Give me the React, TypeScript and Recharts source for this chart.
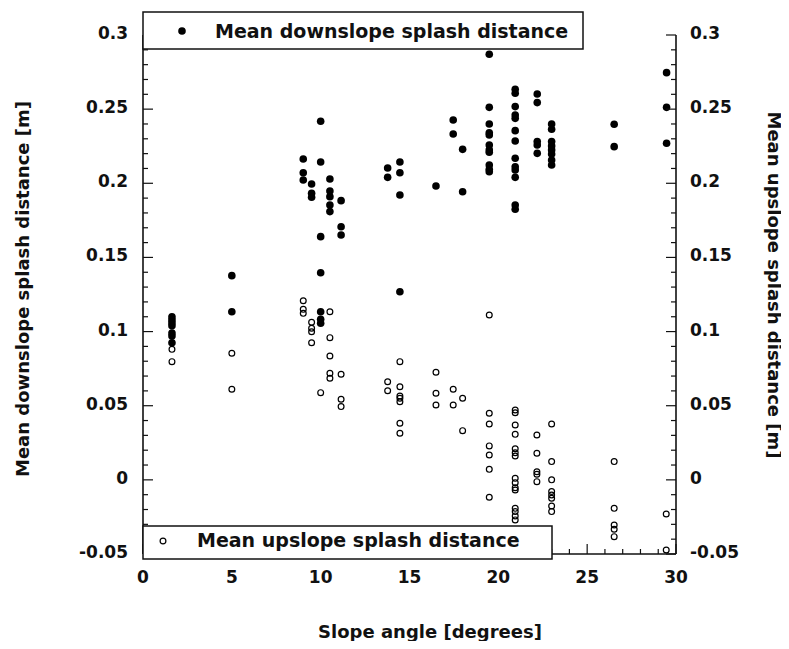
import React from "react";
import { ScatterChart, Scatter, XAxis, YAxis } from "recharts";

// ---- data (slope angle [deg], distance [m]) ----
const downslope: [number, number][] = [
  [1.63, 0.110], [1.63, 0.108], [1.63, 0.106], [1.63, 0.104], [1.63, 0.099], [1.63, 0.097], [1.63, 0.0925],
  [5.0, 0.1377], [5.0, 0.1134],
  [9.02, 0.2164], [9.02, 0.2071], [9.02, 0.2022],
  [9.49, 0.1995], [9.49, 0.1933], [9.49, 0.1906],
  [10.0, 0.2418], [10.0, 0.2144], [10.0, 0.164], [10.0, 0.1397], [10.0, 0.1134], [10.0, 0.1083], [10.0, 0.1056],
  [10.52, 0.2029], [10.52, 0.1948], [10.52, 0.191], [10.52, 0.1854], [10.52, 0.1809],
  [11.15, 0.1883], [11.15, 0.1707], [11.15, 0.1651],
  [13.77, 0.2103], [13.77, 0.204],
  [14.46, 0.2144], [14.46, 0.2071], [14.46, 0.1921], [14.46, 0.1269],
  [16.49, 0.1982],
  [17.46, 0.2427], [17.46, 0.2332],
  [17.99, 0.2229], [17.99, 0.1943],
  [19.49, 0.287], [19.49, 0.2512], [19.49, 0.24], [19.49, 0.2341], [19.49, 0.2326], [19.49, 0.2258],
  [19.49, 0.2225], [19.49, 0.2209], [19.49, 0.2123], [19.49, 0.2094], [19.49, 0.2078],
  [20.95, 0.2634], [20.95, 0.2607], [20.95, 0.2517], [20.95, 0.2461], [20.95, 0.2438], [20.95, 0.2355],
  [20.95, 0.2285], [20.95, 0.2169], [20.95, 0.2112], [20.95, 0.209], [20.95, 0.204], [20.95, 0.1854], [20.95, 0.1825],
  [22.19, 0.2602], [22.19, 0.2544], [22.19, 0.2281], [22.19, 0.2258], [22.19, 0.2202],
  [23.0, 0.24], [23.0, 0.2364], [23.0, 0.2281], [23.0, 0.2252], [23.0, 0.2225], [23.0, 0.2198], [23.0, 0.2157], [23.0, 0.2123],
  [26.52, 0.2398], [26.52, 0.2247],
  [29.47, 0.2746], [29.47, 0.2512], [29.47, 0.227],
];

const upslope: [number, number][] = [
  [1.63, 0.088], [1.63, 0.0797],
  [5.0, 0.0854], [5.0, 0.0611],
  [9.02, 0.1208], [9.02, 0.115], [9.02, 0.1123],
  [9.49, 0.1063], [9.49, 0.1022], [9.49, 0.0999], [9.49, 0.0925],
  [10.0, 0.0588],
  [10.52, 0.1134], [10.52, 0.0959], [10.52, 0.0835], [10.52, 0.0719], [10.52, 0.0685],
  [11.15, 0.0712], [11.15, 0.0544], [11.15, 0.0494],
  [13.77, 0.0662], [13.77, 0.0601],
  [14.46, 0.0797], [14.46, 0.0628], [14.46, 0.0566], [14.46, 0.055], [14.46, 0.0527], [14.46, 0.0382], [14.46, 0.0314],
  [16.49, 0.0726], [16.49, 0.0584], [16.49, 0.0505],
  [17.46, 0.0611], [17.46, 0.0505],
  [17.99, 0.055], [17.99, 0.0332],
  [19.49, 0.1112], [19.49, 0.0449], [19.49, 0.0377], [19.49, 0.0229], [19.49, 0.0168], [19.49, 0.0071], [19.49, -0.0117],
  [20.95, 0.0471], [20.95, 0.0453], [20.95, 0.037], [20.95, 0.0307], [20.95, 0.021], [20.95, 0.0183], [20.95, 0.0161],
  [20.95, 0.001], [20.95, -0.0019], [20.95, -0.0053], [20.95, -0.0068], [20.95, -0.0192], [20.95, -0.0214],
  [20.95, -0.0243], [20.95, -0.027],
  [22.17, 0.0303], [22.17, 0.0179], [22.17, 0.0055], [22.17, 0.0038], [22.17, -0.0012],
  [23.0, 0.0377], [23.0, 0.0123], [23.0, 0.0], [23.0, -0.0079], [23.0, -0.0102], [23.0, -0.0124], [23.0, -0.0176], [23.0, -0.0214],
  [26.52, 0.0123], [26.52, -0.0192], [26.52, -0.0304], [26.52, -0.0333], [26.52, -0.0383],
  [29.45, -0.023], [29.45, -0.0473],
];

const xTicks = [0, 1, 2, 3, 4, 5, 6, 7, 8, 9, 10, 11, 12, 13, 14, 15, 16, 17, 18, 19, 20, 21, 22, 23, 24, 25, 26, 27, 28, 29, 30];
const xMajor = [0, 5, 10, 15, 20, 25, 30];
const yTicks = [-0.05, -0.04, -0.03, -0.02, -0.01, 0, 0.01, 0.02, 0.03, 0.04, 0.05, 0.06, 0.07, 0.08, 0.09, 0.1, 0.11, 0.12, 0.13, 0.14, 0.15, 0.16, 0.17, 0.18, 0.19, 0.2, 0.21, 0.22, 0.23, 0.24, 0.25, 0.26, 0.27, 0.28, 0.29, 0.3];
const yMajor = [-0.05, 0, 0.05, 0.1, 0.15, 0.2, 0.25, 0.3];

const downName = "Mean downslope splash distance";
const upName = "Mean upslope splash distance";
const xTitle = "Slope angle [degrees]";
const yLeftTitle = "Mean downslope splash distance [m]";
const yRightTitle = "Mean upslope splash distance [m]";

const downData = downslope.map(([x, y]) => ({ x, y }));
const upData = upslope.map(([x, y]) => ({ x, y }));

const FONT = "'DejaVu Sans', sans-serif";
const INK = "#111";
const W = 773;
const H = 633;

const isMajorX = (v: number) => xMajor.some((m) => Math.abs(m - v) < 1e-9);
const isMajorY = (v: number) => yMajor.some((m) => Math.abs(m - v) < 1e-9);

const BottomTick = (p: any) => {
  const v = p.payload.value;
  const major = isMajorX(v);
  return (
    <g>
      <line x1={p.x} x2={p.x} y1={p.y} y2={p.y - (major ? 10 : 5)} stroke={INK} strokeWidth={1.2} />
      {major && (
        <text x={p.x} y={p.y + 29} textAnchor="middle" fontFamily={FONT} fontSize={17} fontWeight="bold" fill={INK}>
          {String(v)}
        </text>
      )}
    </g>
  );
};

const TopTick = (p: any) => {
  const v = p.payload.value;
  const major = isMajorX(v);
  return <line x1={p.x} x2={p.x} y1={p.y} y2={p.y + (major ? 10 : 5)} stroke={INK} strokeWidth={1.2} />;
};

const LeftTick = (p: any) => {
  const v = p.payload.value;
  const major = isMajorY(v);
  return (
    <g>
      <line x1={p.x} x2={p.x + (major ? 10 : 5)} y1={p.y} y2={p.y} stroke={INK} strokeWidth={1.2} />
      {major && (
        <text x={p.x - 15} y={p.y + 4} textAnchor="end" fontFamily={FONT} fontSize={17} fontWeight="bold" fill={INK}>
          {String(v)}
        </text>
      )}
    </g>
  );
};

const RightTick = (p: any) => {
  const v = p.payload.value;
  const major = isMajorY(v);
  return (
    <g>
      <line x1={p.x} x2={p.x - (major ? 10 : 5)} y1={p.y} y2={p.y} stroke={INK} strokeWidth={1.2} />
      {major && (
        <text x={p.x + 14} y={p.y + 4} textAnchor="start" fontFamily={FONT} fontSize={17} fontWeight="bold" fill={INK}>
          {String(v)}
        </text>
      )}
    </g>
  );
};

const FilledDot = (p: any) => <circle cx={p.cx} cy={p.cy} r={3.8} fill="#000" />;
const OpenDot = (p: any) => <circle cx={p.cx} cy={p.cy} r={2.9} fill="none" stroke="#000" strokeWidth={1.2} />;

const axisLine = { stroke: INK, strokeWidth: 1.6 };

export default function App() {
  return (
    <div style={{ position: "relative", width: W, height: H }}>
      <ScatterChart width={W} height={H} margin={{ top: 27, right: 45, bottom: 57, left: 75 }}>
        <XAxis
          xAxisId="bottom"
          type="number"
          dataKey="x"
          domain={[0, 30]}
          ticks={xTicks}
          interval={0}
          tickSize={0}
          tickMargin={0}
          height={30}
          axisLine={axisLine}
          tickLine={false}
          tick={<BottomTick />}
          orientation="bottom"
        />
        <XAxis
          xAxisId="top"
          type="number"
          dataKey="x"
          domain={[0, 30]}
          ticks={xTicks}
          interval={0}
          tickSize={0}
          tickMargin={0}
          height={0}
          axisLine={axisLine}
          tickLine={false}
          tick={<TopTick />}
          orientation="top"
        />
        <YAxis
          yAxisId="left"
          type="number"
          dataKey="y"
          domain={[-0.05, 0.3]}
          ticks={yTicks}
          interval={0}
          tickSize={0}
          tickMargin={0}
          width={60}
          axisLine={axisLine}
          tickLine={false}
          tick={<LeftTick />}
          orientation="left"
        />
        <YAxis
          yAxisId="right"
          type="number"
          dataKey="y"
          domain={[-0.05, 0.3]}
          ticks={yTicks}
          interval={0}
          tickSize={0}
          tickMargin={0}
          width={60}
          axisLine={axisLine}
          tickLine={false}
          tick={<RightTick />}
          orientation="right"
        />
        <Scatter
          name={downName}
          data={downData}
          xAxisId="bottom"
          yAxisId="left"
          shape={FilledDot}
          isAnimationActive={false}
        />
        <Scatter
          name={upName}
          data={upData}
          xAxisId="top"
          yAxisId="right"
          shape={OpenDot}
          isAnimationActive={false}
        />
      </ScatterChart>
      <svg
        width={W}
        height={H}
        style={{ position: "absolute", left: 0, top: 0, overflow: "visible", pointerEvents: "none" }}
      >
        {/* legend: downslope */}
        <rect x={135} y={4} width={440} height={37} fill="#fff" stroke={INK} strokeWidth={1.5} />
        <circle cx={174} cy={23} r={3.8} fill="#000" />
        <text x={207} y={29.5} fontFamily={FONT} fontSize={19} fontWeight="bold" fill={INK}>
          {downName}
        </text>
        {/* legend: upslope */}
        <rect x={135} y={518} width={409} height={33} fill="#fff" stroke={INK} strokeWidth={1.5} />
        <circle cx={155} cy={533} r={2.9} fill="none" stroke="#000" strokeWidth={1.2} />
        <text x={189} y={539} fontFamily={FONT} fontSize={19} fontWeight="bold" fill={INK}>
          {upName}
        </text>
        {/* axis titles */}
        <text x={422} y={630} textAnchor="middle" fontFamily={FONT} fontSize={18} fontWeight="bold" fill={INK}>
          {xTitle}
        </text>
        <text
          transform="translate(21,281) rotate(-90)"
          textAnchor="middle"
          fontFamily={FONT}
          fontSize={18}
          fontWeight="bold"
          fill={INK}
        >
          {yLeftTitle}
        </text>
        <text
          transform="translate(760,277) rotate(90)"
          textAnchor="middle"
          fontFamily={FONT}
          fontSize={18}
          fontWeight="bold"
          fill={INK}
        >
          {yRightTitle}
        </text>
      </svg>
    </div>
  );
}
